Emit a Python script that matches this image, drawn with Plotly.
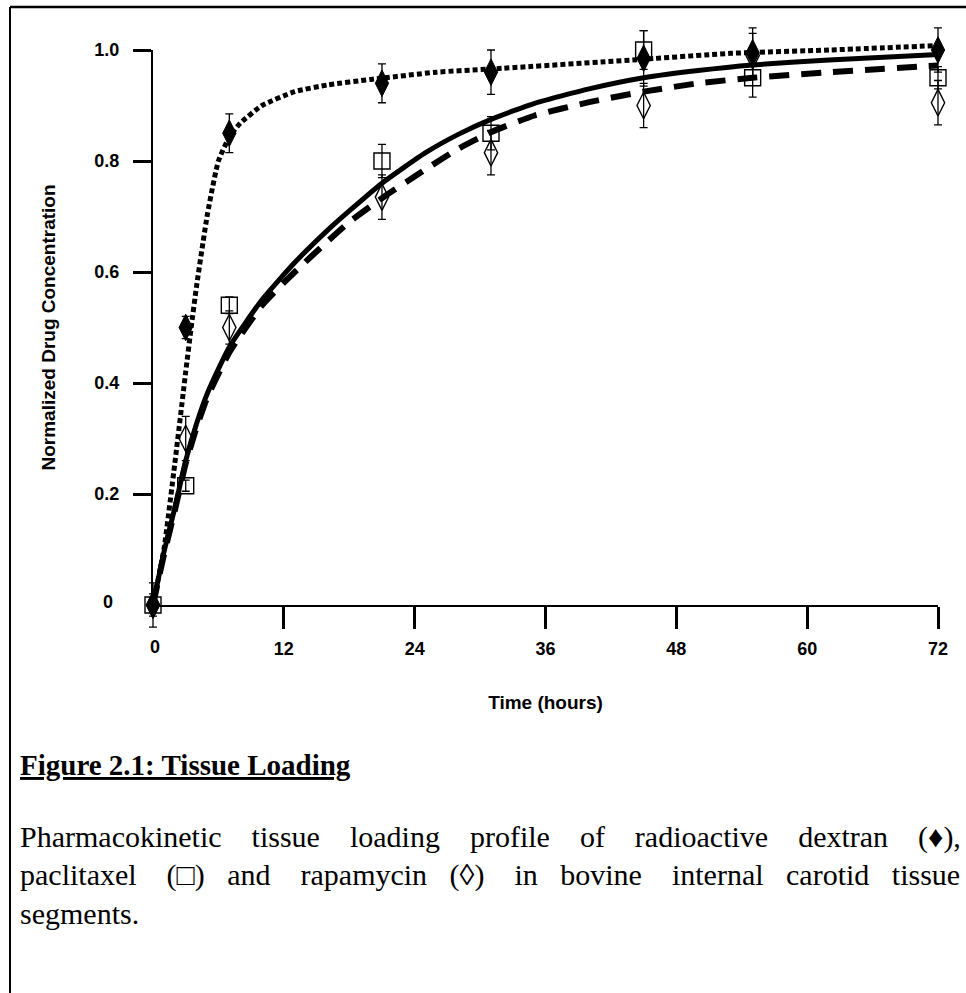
import plotly.graph_objects as go

# ---- measured data (normalized tissue concentration vs time) ----
hours = [0, 3, 7, 21, 31, 45, 55, 72]

dextran = [0, 0.50, 0.85, 0.94, 0.96, 0.985, 0.995, 1.00]
dextran_sd = [0.01, 0.02, 0.035, 0.035, 0.04, 0.05, 0.045, 0.04]

paclitaxel = [0, 0.215, 0.54, 0.80, 0.85, 1.00, 0.95, 0.95]
paclitaxel_sd = [0.04, 0.01, 0.015, 0.03, 0.03, 0.035, 0.035, 0.02]

rapamycin = [0, 0.30, 0.50, 0.735, 0.815, 0.90, 0.99, 0.905]
rapamycin_sd = [0.02, 0.04, 0.03, 0.04, 0.04, 0.04, 0.04, 0.04]

# ---- fitted loading curves ----
dextran_fit_t = [0, 1, 2, 3, 3.5, 4, 5, 6, 7, 8, 10, 13, 16, 20, 26, 32,
                 44, 53, 62, 72]
dextran_fit = [0, 0.10, 0.255, 0.42, 0.50, 0.575, 0.705, 0.80, 0.843, 0.868,
               0.90, 0.925, 0.937, 0.947, 0.96, 0.967, 0.982, 0.994, 1.0, 1.008]

paclitaxel_fit_t = [0, 1, 2, 3, 4, 5, 7, 10, 13, 16, 18, 21, 25, 28, 31, 35,
                    40, 45, 50, 55, 62, 72]
paclitaxel_fit = [0, 0.095, 0.175, 0.26, 0.327, 0.382, 0.465, 0.55, 0.617,
                  0.675, 0.71, 0.76, 0.815, 0.848, 0.875, 0.904, 0.93, 0.95,
                  0.963, 0.973, 0.982, 0.992]

rapamycin_fit_t = [0, 1, 2, 3, 4, 5, 7, 10, 13, 16, 18, 21, 25, 28, 31, 35,
                   40, 45, 50, 55, 62, 72]
rapamycin_fit = [0, 0.09, 0.17, 0.255, 0.32, 0.375, 0.455, 0.54, 0.60, 0.655,
                 0.69, 0.733, 0.785, 0.822, 0.852, 0.882, 0.906, 0.925, 0.94,
                 0.95, 0.96, 0.972]

x_ticks = [12, 24, 36, 48, 60, 72]
y_ticks = [0.2, 0.4, 0.6, 0.8, 1.0]
y_tick_text = ["0.2", "0.4", "0.6", "0.8", "1.0"]

caption_title = "Figure 2.1: Tissue Loading"
# justified caption: words of each line and the extra spacing after each word
caption_words = [
    ["Pharmacokinetic", "tissue", "loading", "profile", "of", "radioactive",
     "dextran", "(\u2666),"],
    ["paclitaxel", "(\u25a1)", "and", "rapamycin", "(\u25ca)", "in", "bovine",
     "internal", "carotid", "tissue"],
    ["segments."],
]
caption_gaps = [
    [3, 3, 3, 3, 3, 3, 3],
    [3, 2, 3, 2, 3, 2, 3, 2, 2],
    [],
]

# ---- page geometry (pixels) ----
W, H = 966, 993
PL, PR, PT, PB = 60, 962, 12, 680          # extent of the drawing area
X0_PX, X72_PX = 153, 938                   # t = 0 h and t = 72 h
Y0_PX, Y1_PX = 605, 50                     # value 0 and value 1.0

px_per_h = (X72_PX - X0_PX) / 72.0
px_per_unit = (Y0_PX - Y1_PX) / 1.0


def t_at(px):
    return (px - X0_PX) / px_per_h


def v_at(py):
    return (Y0_PX - py) / px_per_unit


def xp(px):
    return (px - PL) / (PR - PL)


def yp(py):
    return (PB - py) / (PB - PT)


SANS = "Liberation Sans, Arial, sans-serif"
SERIF = "Liberation Serif, Times New Roman, serif"

fig = go.Figure()

# fitted curves
fig.add_trace(go.Scatter(x=dextran_fit_t, y=dextran_fit, mode="lines",
                         line=dict(color="black", width=5, dash="5px,3px",
                                   shape="spline", smoothing=0.5),
                         showlegend=False, hoverinfo="skip"))
fig.add_trace(go.Scatter(x=paclitaxel_fit_t, y=paclitaxel_fit, mode="lines",
                         line=dict(color="black", width=5, shape="spline",
                                   smoothing=0.5),
                         showlegend=False, hoverinfo="skip"))
fig.add_trace(go.Scatter(x=rapamycin_fit_t, y=rapamycin_fit, mode="lines",
                         line=dict(color="black", width=6, dash="20px,12px",
                                   shape="spline", smoothing=0.5),
                         showlegend=False, hoverinfo="skip"))

err_style = dict(type="data", visible=True, color="black", thickness=1.3, width=4)

fig.add_trace(go.Scatter(x=hours, y=paclitaxel, mode="markers", name="paclitaxel",
                         error_y=dict(array=paclitaxel_sd, **err_style),
                         marker=dict(symbol="square-open", size=16, color="black",
                                     line=dict(width=1.4, color="black")),
                         cliponaxis=False, showlegend=False))
fig.add_trace(go.Scatter(x=hours, y=rapamycin, mode="markers", name="rapamycin",
                         error_y=dict(array=rapamycin_sd, **err_style),
                         marker=dict(symbol="diamond-tall-open", size=19, color="black",
                                     line=dict(width=1.4, color="black")),
                         cliponaxis=False, showlegend=False))
fig.add_trace(go.Scatter(x=hours, y=dextran, mode="markers", name="dextran",
                         error_y=dict(array=dextran_sd, **err_style),
                         marker=dict(symbol="diamond-tall", size=19, color="black",
                                     line=dict(width=1, color="black")),
                         cliponaxis=False, showlegend=False))

# empty trace so the framing axes (x2 / y2) get their own subplot
fig.add_trace(go.Scatter(x=[], y=[], xaxis="x2", yaxis="y2", mode="markers",
                         showlegend=False, hoverinfo="skip"))

tick_font = dict(family=SANS, size=18, color="black", weight="bold")
title_font = dict(family=SANS, size=19, color="black", weight="bold")

fig.update_layout(
    width=W, height=H,
    margin=dict(l=PL, r=W - PR, t=PT, b=H - PB, pad=0),
    paper_bgcolor="white", plot_bgcolor="rgba(0,0,0,0)",
    showlegend=False,
    xaxis=dict(domain=[0, 1], range=[t_at(PL), t_at(PR)], visible=False,
               anchor="y", fixedrange=True),
    yaxis=dict(domain=[0, 1], range=[v_at(PB), v_at(PT)], visible=False,
               anchor="x", fixedrange=True),
    xaxis2=dict(domain=[xp(X0_PX), xp(X72_PX)], range=[0, 72], anchor="y2",
                tickmode="array", tickvals=x_ticks,
                ticks="outside", ticklen=22, tickwidth=3, tickcolor="black",
                showline=True, linewidth=2, linecolor="black",
                showgrid=False, zeroline=False, tickfont=tick_font,
                ticklabelstandoff=4, automargin=False, fixedrange=True,
                title=dict(text="Time (hours)", font=title_font, standoff=38)),
    yaxis2=dict(domain=[yp(Y0_PX), yp(Y1_PX)], range=[0, 1], anchor="x2",
                tickmode="array", tickvals=y_ticks, ticktext=y_tick_text,
                ticks="outside", ticklen=18, tickwidth=3, tickcolor="black",
                showline=True, linewidth=2, linecolor="black",
                showgrid=False, zeroline=False, tickfont=tick_font,
                ticklabelstandoff=10, automargin=False, fixedrange=True,
                title=dict(text="Normalized Drug Concentration", font=title_font,
                           standoff=34)),
)

annotations = [
    dict(text="0", x=xp(108), y=yp(602), xanchor="center", yanchor="middle",
         font=tick_font),
    dict(text="0", x=xp(155), y=yp(647), xanchor="center", yanchor="middle",
         font=tick_font),
    dict(text="<u>" + caption_title + "</u>", x=xp(18), y=yp(765),
         xanchor="left", yanchor="middle",
         font=dict(family=SERIF, size=29, color="black", weight="bold")),
]
for i, (words, gaps) in enumerate(zip(caption_words, caption_gaps)):
    line = words[0]
    for gap, word in zip(gaps, words[1:]):
        line += " " + "\u00a0" * gap + word
    annotations.append(dict(text=line, x=xp(18), y=yp(837 + 38 * i),
                            xanchor="left", yanchor="middle",
                            font=dict(family=SERIF, size=30, color="black")))
for a in annotations:
    a.update(xref="paper", yref="paper", showarrow=False)
fig.update_layout(annotations=annotations)

# page frame: top and left rules
fig.update_layout(shapes=[
    dict(type="line", xref="paper", yref="paper", x0=xp(10), x1=xp(966),
         y0=yp(7), y1=yp(7), line=dict(color="black", width=2.5)),
    dict(type="line", xref="paper", yref="paper", x0=xp(10), x1=xp(10),
         y0=yp(7), y1=yp(993), line=dict(color="black", width=2)),
])

fig.write_html("out.html")
